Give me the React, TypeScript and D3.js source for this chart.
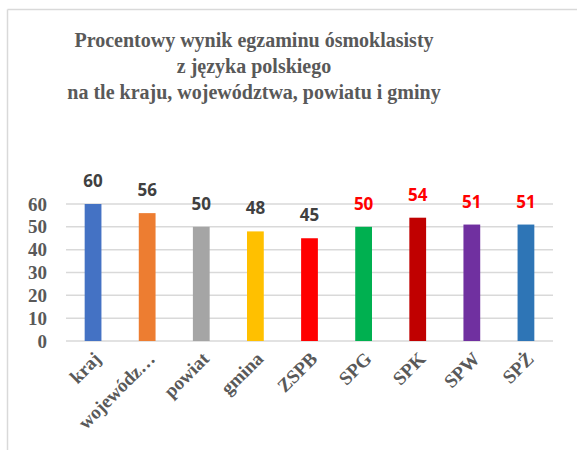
import * as d3 from "d3";

const categories = ["kraj", "wojewódz…", "powiat", "gmina", "ZSPB", "SPG", "SPK", "SPW", "SPŻ"];
const values = [60, 56, 50, 48, 45, 50, 54, 51, 51];
const barColors = ["#4472C4", "#ED7D31", "#A5A5A5", "#FFC000", "#FF0000", "#00B050", "#C00000", "#7030A0", "#2E75B6"];
const labelColors = ["#404040", "#404040", "#404040", "#404040", "#404040", "#FF0000", "#FF0000", "#FF0000", "#FF0000"];
const yTicks = [0, 10, 20, 30, 40, 50, 60];
const titleLines = [
  "Procentowy wynik egzaminu ósmoklasisty",
  "z języka polskiego",
  "na tle kraju, województwa, powiatu i gminy",
];

const W = 577;
const H = 450;
const serif = "'Liberation Serif', 'DejaVu Serif', serif";

export default function App() {
  const x = d3.scaleBand<string>().domain(categories).range([66, 553]).paddingInner(0.69).paddingOuter(0.345);
  const y = d3.scaleLinear().domain([0, 60]).range([341, 204]);

  return (
    <svg width={W} height={H} style={{ position: "absolute", left: 0, top: 0, background: "#fff" }}>
      {/* frame */}
      <line x1={7.5} x2={W} y1={9.5} y2={9.5} stroke="#d9d9d9" strokeWidth={1.5} />
      <line x1={7.5} x2={7.5} y1={9.5} y2={H} stroke="#d9d9d9" strokeWidth={1.5} />

      {titleLines.map((t, i) => (
        <text
          key={i}
          x={254}
          y={47 + i * 26}
          textAnchor="middle"
          fontFamily={serif}
          fontWeight="bold"
          fontSize={20}
          fill="#595959"
        >
          {t}
        </text>
      ))}

      {/* grid */}
      {yTicks.map((t) => (
        <g key={t}>
          <line x1={66} x2={553} y1={y(t)} y2={y(t)} stroke="#d9d9d9" strokeWidth={1.5} />
          <text
            x={47}
            y={y(t)}
            dy="0.35em"
            textAnchor="end"
            fontFamily={serif}
            fontWeight="bold"
            fontSize={19}
            fill="#595959"
          >
            {t}
          </text>
        </g>
      ))}

      {categories.map((c, i) => {
        const bx = x(c) ?? 0;
        const cx = bx + x.bandwidth() / 2;
        return (
          <g key={c}>
            <rect x={bx} y={y(values[i])} width={x.bandwidth()} height={y(0) - y(values[i])} fill={barColors[i]} />
            <text
              x={cx}
              y={y(values[i]) - 17}
              textAnchor="middle"
              fontFamily="'Open Sans', 'DejaVu Sans', sans-serif"
              fontWeight="bold"
              fontSize={17}
              fill={labelColors[i]}
            >
              {values[i]}
            </text>
            <text
              transform={`translate(${cx + 9},${360}) rotate(-45)`}
              textAnchor="end"
              fontFamily={serif}
              fontWeight="bold"
              fontSize={19}
              fill="#595959"
            >
              {c}
            </text>
          </g>
        );
      })}
    </svg>
  );
}
